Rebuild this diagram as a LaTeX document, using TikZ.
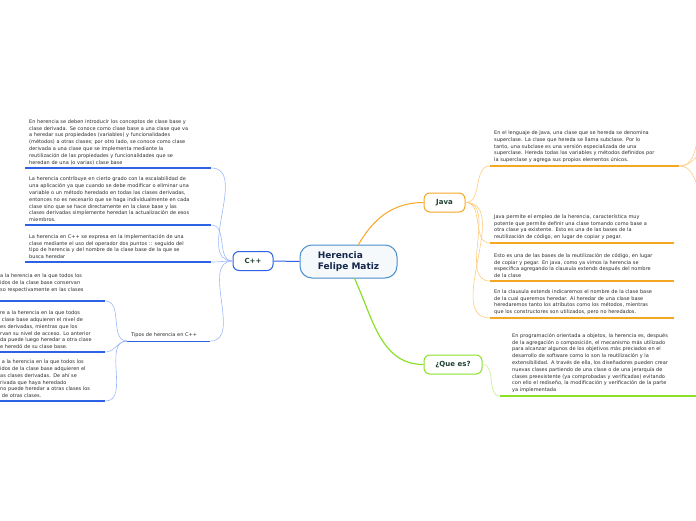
\documentclass[tikz,border=0pt]{standalone}
\usepackage{fontspec}
\setmainfont{DejaVu Sans}
\usetikzlibrary{calc}
\definecolor{hfink}{HTML}{15284B}
\definecolor{hfroot}{HTML}{4B8FCB}
\definecolor{hfblue}{HTML}{2E62E6}
\definecolor{hfpale}{HTML}{9DB8F8}
\definecolor{hforange}{HTML}{F5A623}
\definecolor{hfpeach}{HTML}{FFCB80}
\definecolor{hfgreen}{HTML}{8BE02A}
\definecolor{hfmint}{HTML}{C5F08A}
\definecolor{hfdark}{HTML}{1F4130}
\definecolor{hftext}{HTML}{2B2B2B}

\begin{document}
\begin{tikzpicture}[
  x=1pt,y=-1pt,
  root/.style={rectangle,rounded corners=12pt,draw=hfroot,line width=1pt,fill=hfroot!5,minimum width=97pt,minimum height=33pt,align=left,text=hfink,font=\bfseries\fontsize{9}{11}\selectfont},
  topic/.style={rectangle,rounded corners=6pt,line width=1pt,fill=white,minimum height=19pt,text=hfdark,font=\bfseries\fontsize{7}{8}\selectfont},
  leaf/.style={anchor=south west,align=left,inner xsep=4pt,inner ysep=3pt,text=hftext,font=\fontsize{5}{6.8}\selectfont},
  uline/.style={line width=1.4pt},
  twig/.style={line width=0.6pt},
]
\useasboundingbox (0,0) rectangle (696,520);
\clip (0,0) rectangle (696,520);

% main topics
\node[root] (root) at (348.5,261.5) {Herencia\\Felipe Matiz};
\node[topic,draw=hfblue,minimum width=40pt] (cpp) at (253,261) {C++};
\node[topic,draw=hforange,minimum width=41pt] (java) at (444.5,202.5) {Java};
\node[topic,draw=hfgreen,minimum width=58pt] (quees) at (453,364.5) {¿Que es?};

\draw[hfblue,line width=1pt] (root.west) -- (cpp.east);
\draw[hforange,line width=1pt] ([xshift=10pt]root.north) to[out=60,in=180] (java.west);
\draw[hfgreen,line width=1.2pt] ([xshift=6pt]root.south) to[out=-65,in=180] (quees.west);

% C++ side
\node[leaf,text width=178pt] (c1) at (25,168)
  {En herencia se deben introducir los conceptos de clase base y\\
   clase derivada. Se conoce como clase base a una clase que va\\
   a heredar sus propiedades (variables) y funcionalidades\\
   (métodos) a otras clases; por otro lado, se conoce como clase\\
   derivada a una clase que se implementa mediante la\\
   reutilización de las propiedades y funcionalidades que se\\
   heredan de una (o varias) clase base};
\node[leaf,text width=178pt] (c2) at (25,225)
  {La herencia contribuye en cierto grado con la escalabilidad de\\
   una aplicación ya que cuando se debe modificar o eliminar una\\
   variable o un método heredado en todas las clases derivadas,\\
   entonces no es necesario que se haga individualmente en cada\\
   clase sino que se hace directamente en la clase base y las\\
   clases derivadas simplemente heredan la actualización de esos\\
   miembros.};
\node[leaf,text width=178pt] (c3) at (25,262)
  {La herencia en C++ se expresa en la implementación de una\\
   clase mediante el uso del operador dos puntos :: seguido del\\
   tipo de herencia y del nombre de la clase base de la que se\\
   busca heredar};
\node[leaf,text width=75pt] (tipos) at (127,341) {Tipos de herencia en C++};

\node[leaf,text width=101pt] (t1) at (-4,301)
  {a la herencia en la que todos los\\
   idos de la clase base conservan\\
   so respectivamente en las clases\\ \mbox{}};
\node[leaf,text width=101pt] (t2) at (-4,352)
  {re a la herencia en la que todos\\
   \ clase base adquieren el nivel de\\
   es derivadas, mientras que los\\
   rvan su nivel de acceso. Lo anterior\\
   da puede luego heredar a otra clase\\
   e heredó de su clase base.};
\node[leaf,text width=101pt] (t3) at (-4,401)
  {\ a la herencia en la que todos los\\
   idos de la clase base adquieren el\\
   as clases derivadas. De ahí se\\
   rivada que haya heredado\\
   no puede heredar a otras clases los\\
   \ de otras clases.};

\foreach \n in {c1,c2,c3,tipos}
  \draw[twig,hfpale] (cpp.west) to[out=180,in=0] (\n.south east);
\foreach \n in {t1,t2,t3}
  \draw[twig,hfpale] (tipos.south west) to[out=180,in=0] (\n.south east);
\foreach \n in {c1,c2,c3,t1,t2,t3}
  \draw[uline,hfblue] (\n.south west) -- (\n.south east);
\draw[hfblue,line width=0.8pt] (tipos.south west) -- (tipos.south east);

% Java side
\node[leaf,text width=181pt] (j1) at (490,166)
  {En el lenguaje de Java, una clase que se hereda se denomina\\
   superclase. La clase que hereda se llama subclase. Por lo\\
   tanto, una subclase es una versión especializada de una\\
   superclase. Hereda todas las variables y métodos definidos por\\
   la superclase y agrega sus propios elementos únicos.};
\node[leaf,text width=176pt] (j2) at (490,243)
  {Java permite el empleo de la herencia, característica muy\\
   potente que permite definir una clase tomando como base a\\
   otra clase ya existente. Esto es una de las bases de la\\
   reutilización de código, en lugar de copiar y pegar.};
\node[leaf,text width=176pt] (j3) at (490,281)
  {Esto es una de las bases de la reutilización de código, en lugar\\
   de copiar y pegar. En java, como ya vimos la herencia se\\
   especifica agregando la clausula extends después del nombre\\
   de la clase};
\node[leaf,text width=176pt] (j4) at (490,318)
  {En la clausula extends indicaremos el nombre de la clase base\\
   de la cual queremos heredar. Al heredar de una clase base\\
   heredaremos tanto los atributos como los métodos, mientras\\
   que los constructores son utilizados, pero no heredados.};

\coordinate (jx1) at (716,110);
\coordinate (jx2) at (716,146);
\coordinate (jx3) at (716,208);
\foreach \n in {j1,j2,j3,j4}
  \draw[twig,hfpeach] (java.east) to[out=0,in=180] (\n.south west);
\foreach \i in {1,2,3}
  \draw[twig,hfpeach] (j1.south east) to[out=0,in=180] (jx\i);
\foreach \n in {j1,j2,j3,j4}
  \draw[uline,hforange] (\n.south west) -- (\n.south east);

% Que es side
\node[leaf,inner xsep=12pt,text width=190pt] (q1) at (500,396)
  {En programación orientada a objetos, la herencia es, después\\
   de la agregación o composición, el mecanismo más utilizado\\
   para alcanzar algunos de los objetivos más preciados en el\\
   desarrollo de software como lo son la reutilización y la\\
   extensibilidad. A través de ella, los diseñadores pueden crear\\
   nuevas clases partiendo de una clase o de una jerarquía de\\
   clases preexistente (ya comprobadas y verificadas) evitando\\
   con ello el rediseño, la modificación y verificación de la parte\\
   ya implementada};
\draw[twig,hfmint] (quees.east) to[out=0,in=180] (q1.south west);
\draw[uline,hfgreen] (q1.south west) -- (q1.south east);
\end{tikzpicture}
\end{document}
